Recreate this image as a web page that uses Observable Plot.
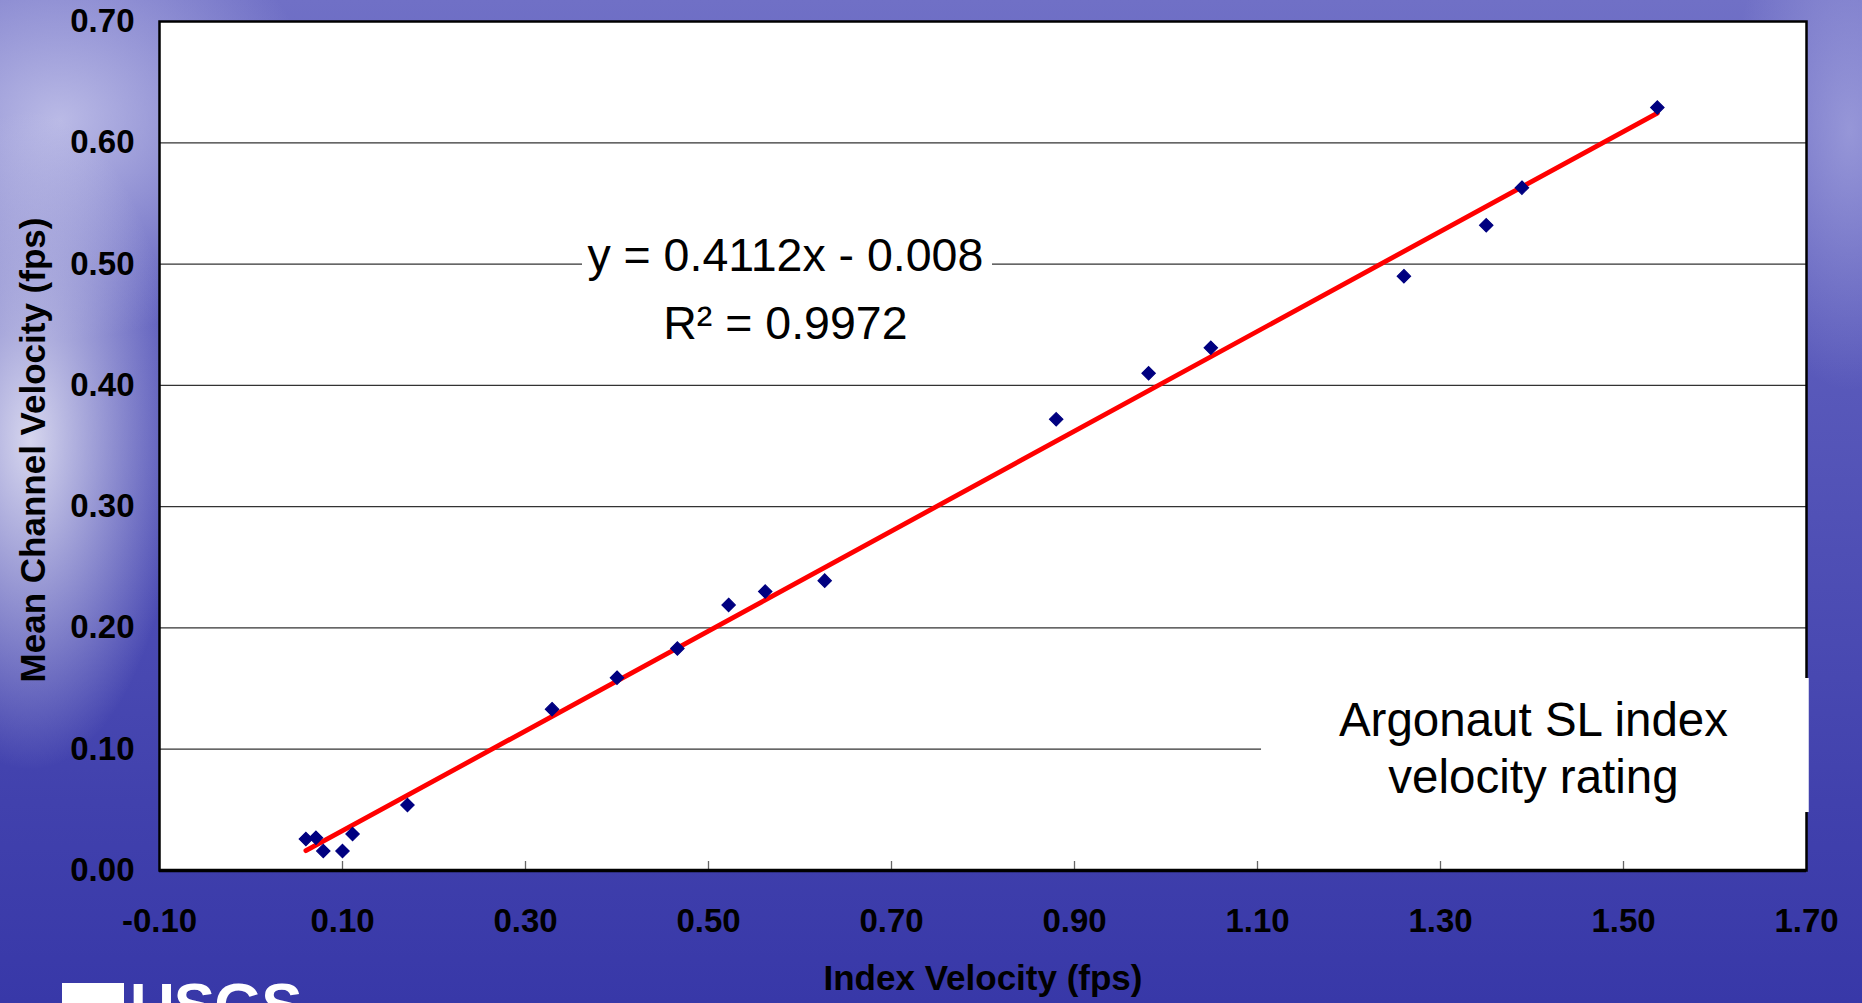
<!DOCTYPE html>
<html>
<head>
<meta charset="utf-8">
<script src="https://cdn.jsdelivr.net/npm/d3@7"></script>
<script src="https://cdn.jsdelivr.net/npm/@observablehq/plot@0.6"></script>
<style>
  html, body { margin: 0; padding: 0; width: 1862px; height: 1003px; overflow: hidden; }
  body {
    position: relative;
    background:
      radial-gradient(ellipse 150px 330px at 30px 440px, rgba(228,228,244,0.9), rgba(228,228,244,0) 100%),
      radial-gradient(ellipse 260px 220px at 60px 120px, rgba(200,200,236,0.85), rgba(200,200,236,0) 100%),
      radial-gradient(ellipse 120px 260px at 1850px 130px, rgba(170,170,225,0.7), rgba(170,170,225,0) 100%),
      linear-gradient(to bottom, #7070c6 0%, #6060be 25%, #4f4fb5 55%, #4141ad 80%, #3838a8 100%);
    font-family: "Liberation Sans", Arial, sans-serif;
  }
  #chart { position: absolute; left: 0; top: 0; }
  #logo { position: absolute; left: 62px; top: 974px; color: white; font: bold 62px/62px "Liberation Sans", Arial, sans-serif; letter-spacing: -1px; white-space: nowrap; }
  #logo .mark { display: inline-block; width: 62px; height: 40px; background: white; vertical-align: top; margin-top: 9px; margin-right: 6px; }
</style>
</head>
<body>
<div id="chart"></div>
<div id="logo"><span class="mark"></span>USGS</div>
<script>
// Index velocity (fps), x
const indexVelocity = [0.060, 0.071, 0.079, 0.100, 0.111, 0.171, 0.329, 0.400, 0.466, 0.522, 0.562, 0.627, 0.880, 0.981, 1.049, 1.260, 1.350, 1.389, 1.537];
// Mean channel velocity (fps), y
const meanVelocity  = [0.026, 0.027, 0.016, 0.016, 0.030, 0.054, 0.133, 0.159, 0.183, 0.219, 0.230, 0.239, 0.372, 0.410, 0.431, 0.490, 0.532, 0.563, 0.629];
const xTicks = [-0.1, 0.1, 0.3, 0.5, 0.7, 0.9, 1.1, 1.3, 1.5, 1.7];
const yTicks = [0, 0.1, 0.2, 0.3, 0.4, 0.5, 0.6, 0.7];
const equationLines = ["y = 0.4112x - 0.008", "R\u00B2 = 0.9972"];
const noteLines = ["Argonaut SL index", "velocity rating"];
const xTitle = "Index Velocity (fps)";
const yTitle = "Mean Channel Velocity (fps)";

const data = indexVelocity.map((x, i) => ({x, y: meanVelocity[i]}));
const fmt = d => d.toFixed(2);
const FONT = "'Liberation Sans', Arial, sans-serif";

const chart = Plot.plot({
  width: 1862,
  height: 1003,
  marginLeft: 159,
  marginRight: 56,
  marginTop: 21,
  marginBottom: 133,
  style: {background: "transparent", fontFamily: FONT, fontSize: "33px", color: "black", overflow: "visible"},
  x: {domain: [-0.1, 1.7]},
  y: {domain: [0, 0.7]},
  marks: [
    Plot.frame({fill: "white", stroke: null}),
    Plot.ruleY(yTicks.slice(1, -1), {stroke: "#333", strokeWidth: 1.3}),
    // text boxes masking the gridlines (Excel label boxes)
    Plot.rect([{x1: 0.3623, x2: 0.8104, y1: 0.429, y2: 0.532}], {x1: "x1", x2: "x2", y1: "y1", y2: "y2", fill: "white"}),
    Plot.axisX({ticks: xTicks.slice(1, -1), tickSize: 9, dy: -9, text: null, stroke: "#666", strokeWidth: 1.3}),
    Plot.frame({stroke: "black", strokeWidth: 2.5}),
    Plot.ruleY([0], {stroke: "black", strokeWidth: 3.5}),
    Plot.rect([{x1: 1.1044, x2: 1.703, y1: 0.0478, y2: 0.1583}], {x1: "x1", x2: "x2", y1: "y1", y2: "y2", fill: "white"}),
    Plot.axisX({ticks: xTicks, tickFormat: fmt, tickSize: 0, tickPadding: 38, fontWeight: "bold", fontSize: 33, label: null}),
    Plot.axisY({ticks: yTicks, tickFormat: fmt, tickSize: 0, tickPadding: 25, fontWeight: "bold", fontSize: 33, label: null}),
    Plot.linearRegressionY(data, {x: "x", y: "y", stroke: "#ff0000", strokeWidth: 4.8, strokeLinecap: "round", ci: 0}),
    Plot.dot(data, {x: "x", y: "y", symbol: "diamond2", r: 6, fill: "#000080", stroke: "#000080", strokeWidth: 1.2}),
    Plot.text([equationLines[0]], {x: 0.584, y: 0.4946, lineAnchor: "bottom", textAnchor: "middle", fontSize: 46.5, fill: "black"}),
    Plot.text([equationLines[1]], {x: 0.584, y: 0.4386, lineAnchor: "bottom", textAnchor: "middle", fontSize: 46.5, fill: "black"}),
    Plot.text([noteLines[0]], {x: 1.4016, y: 0.1113, lineAnchor: "bottom", textAnchor: "middle", fontSize: 47.5, fill: "black"}),
    Plot.text([noteLines[1]], {x: 1.4016, y: 0.0643, lineAnchor: "bottom", textAnchor: "middle", fontSize: 47.5, fill: "black"}),
    Plot.text([xTitle], {frameAnchor: "bottom", textAnchor: "middle", dy: 119, fontWeight: "bold", fontSize: 35, fill: "black"}),
    Plot.text([yTitle], {frameAnchor: "left", textAnchor: "middle", rotate: -90, dx: -126, dy: 4, fontWeight: "bold", fontSize: 35, fill: "black"})
  ]
});
document.getElementById("chart").appendChild(chart);
</script>
</body>
</html>
